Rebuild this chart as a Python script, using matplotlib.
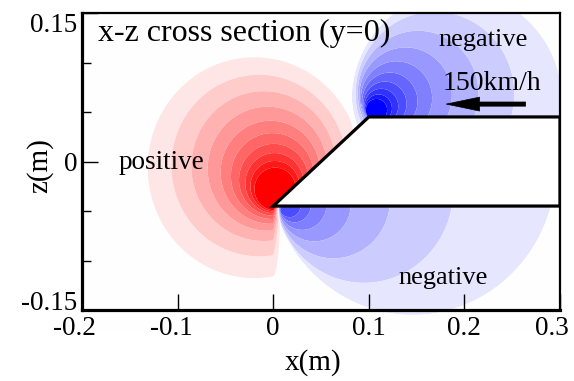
import numpy as np
import matplotlib
matplotlib.use("Agg")
import matplotlib.pyplot as plt
from matplotlib.patches import Polygon
from matplotlib.transforms import ScaledTranslation

# ---------------- data ----------------
# pressure "poles": location, amplitude, reach and shape of the nested contour circles
pole_x = [0.0, 0.1, 0.006]
pole_z = [-0.045, 0.045, -0.045]
pole_amp = [5.0, -3.45, -2.0]             # positive = red, negative = blue
pole_reach = [0.1232, 0.127, 0.192]       # gauge radius where the value reaches 0 (m)
pole_power = [0.1, 0.1, 0.1]
pole_cap = [5.0, 5.0, 0.72]               # largest magnitude each pole reaches
pole_offset_in = [0.9, 0.97, 0.97]        # drift of small circle centres from the pole
pole_offset_out = [0.39, 0.85, 0.97]      # drift of large circle centres
pole_angle_in = [75.0, 45.0, 0.0]         # drift direction, small circles (deg)
pole_angle_out = [117.0, 10.0, 16.0]      # drift direction, large circles (deg)
pole_size_out = [0.11, 0.11, 0.15]        # circle size where the "out" shape applies
pole_side = [0, 1, -1]                    # 1: only above body bottom, -1: only below it

# body outline (x, z) in metres
body_x = [0.0, 0.1, 0.3, 0.3]
body_z = [-0.045, 0.045, 0.045, -0.045]

x_ticks = [-0.2, -0.1, 0.0, 0.1, 0.2, 0.3]
x_ticklabels = ["-0.2", "-0.1", "0", "0.1", "0.2", "0.3"]
z_ticks = [-0.15, 0.0, 0.15]
z_ticklabels = ["-0.15", "0", "0.15"]
z_minor = [-0.1, -0.05, 0.05, 0.1]

levels = [-0.95, -0.85, -0.75, -0.65, -0.55, -0.45, -0.35, -0.25, -0.15, -0.05,
          0.05, 0.15, 0.25, 0.35, 0.45, 0.55, 0.65, 0.75, 0.85, 0.95]

# ---------------- field ----------------
xg = np.linspace(-0.2, 0.3, 601)
zg = np.linspace(-0.17, 0.15, 385)
X, Z = np.meshgrid(xg, zg)


def gauge(dx, dz, e_in, e_out, a_in, a_out, tref):
    lo = np.full(dx.shape, 1e-6)
    hi = np.full(dx.shape, 3.0)
    for _ in range(48):
        mid = np.sqrt(lo * hi)
        q = np.clip(mid / tref, 0, 1)
        e = e_in + (e_out - e_in) * q
        ang = np.radians(a_in + (a_out - a_in) * q)
        g = np.hypot(dx - mid * e * np.cos(ang), dz - mid * e * np.sin(ang)) - mid
        inside = g <= 0
        hi = np.where(inside, mid, hi)
        lo = np.where(inside, lo, mid)
    return np.sqrt(lo * hi)


P = np.zeros_like(X)
for i in range(len(pole_x)):
    dx, dz = X - pole_x[i], Z - pole_z[i]
    t = gauge(dx, dz, pole_offset_in[i], pole_offset_out[i],
              pole_angle_in[i], pole_angle_out[i], pole_size_out[i])
    mag = abs(pole_amp[i]) * np.clip((pole_reach[i] / t) ** pole_power[i] - 1, 0, None)
    term = np.sign(pole_amp[i]) * np.minimum(mag, pole_cap[i])
    below = Z < body_z[0]
    if pole_side[i] == 1:
        term = np.where(below, 0.0, term)
    elif pole_side[i] == -1:
        term = np.where(below, term, 0.0)
    else:
        # the positive lobe stops under the nose
        w = np.clip((body_x[0] + 0.008 - X) / 0.008, 0, 1)
        term = np.where(below, term * w, term)
    P += term

serif = ["Liberation Serif", "DejaVu Serif"]
plt.rcParams["font.family"] = serif

fig = plt.figure(figsize=(5.74, 3.81), dpi=100)
ax = fig.add_axes([82 / 574, 1 - 310 / 381, 478 / 574, 297 / 381])

cs = ax.contourf(X, Z, P, levels=levels, cmap="bwr", vmin=-1, vmax=1,
                 extend="both", antialiased=True)
cs.set_clip_on(False)

body = Polygon(np.column_stack([body_x, body_z]), closed=True, facecolor="white",
               edgecolor="black", linewidth=2.3, zorder=3, joinstyle="miter")
ax.add_patch(body)

ax.set_xlim(-0.2, 0.3)
ax.set_ylim(-0.15, 0.15)

for side in ["left", "bottom"]:
    ax.spines[side].set_linewidth(2.3)
for side in ["top", "right"]:
    ax.spines[side].set_linewidth(1.6)
for sp in ax.spines.values():
    sp.set_zorder(5)

ax.set_xticks(x_ticks)
ax.set_xticklabels(x_ticklabels)
ax.set_yticks(z_ticks)
ax.set_yticklabels(z_ticklabels)
ax.set_yticks(z_minor, minor=True)
ax.tick_params(which="both", direction="in", top=False, right=False,
               colors="black", width=1.0)
ax.tick_params(which="major", length=11.5, labelsize=19.5)
ax.tick_params(axis="x", which="major", pad=4)
ax.tick_params(axis="y", which="major", pad=3.5)
ax.tick_params(which="minor", length=6.5)

ylabs = ax.get_yticklabels()
ylabs[0].set_va("baseline")
ylabs[-1].set_va("top")
x_shift_px = [-8, -6, 0, 0, 0, -8]
for lab, dxp in zip(ax.get_xticklabels(), x_shift_px):
    lab.set_transform(lab.get_transform() + ScaledTranslation(dxp / 100, 0, fig.dpi_scale_trans))

ax.set_xlabel("x(m)", fontsize=21, va="center")
ax.xaxis.set_label_coords((313 - 82) / 478, (310 - 363) / 297)
ax.set_ylabel("z(m)", fontsize=21, va="center")
ax.yaxis.set_label_coords((40 - 82) / 478, (310 - 166) / 297)

ax.text(-0.183, 0.1298, "x-z cross section (y=0)", fontsize=23, ha="left",
        va="center", zorder=6)
ax.text(-0.162, -0.0015, "positive", fontsize=19.5, ha="left", va="center", zorder=6)
ax.text(0.1724, 0.1227, "negative", fontsize=19, ha="left", va="center", zorder=6)
ax.text(0.1776, 0.0783, "150km/h", fontsize=20, ha="left", va="center", zorder=6)
ax.text(0.1305, -0.1177, "negative", fontsize=19, ha="left", va="center", zorder=6)

ax.annotate("", xy=(0.181, 0.058), xytext=(0.264, 0.058),
            arrowprops=dict(arrowstyle="simple,head_length=2.4,head_width=1.0,tail_width=0.3",
                            mutation_scale=10, fc="black", ec="black", lw=0.5,
                            shrinkA=0, shrinkB=0), zorder=6)

fig.savefig("out.png", dpi=100)
